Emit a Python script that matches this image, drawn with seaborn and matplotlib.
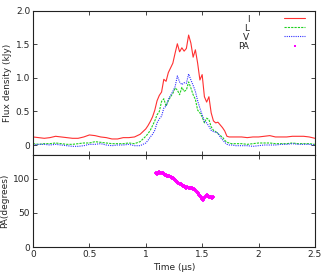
import numpy as np
import pandas as pd
import matplotlib
matplotlib.use("Agg")
import matplotlib.pyplot as plt
import seaborn as sns

# sampling times (us): baseline, burst, tail
t_base = np.round(np.arange(0.0, 0.96, 0.05), 2)
t_burst = np.round(np.arange(1.0, 1.77, 0.02), 2)
t_tail = np.round(np.arange(1.8, 2.51, 0.05), 2)
time_us = np.concatenate([t_base, t_burst, t_tail])

flux_I = [0.12, 0.11, 0.10, 0.11, 0.13, 0.12, 0.11, 0.10, 0.10, 0.12,
          0.15, 0.14, 0.12, 0.11, 0.09, 0.09, 0.11, 0.11, 0.12, 0.16,
          0.24, 0.29, 0.35, 0.42, 0.52, 0.66, 0.74, 0.79, 0.98, 0.95,
          1.08, 1.15, 1.22, 1.37, 1.51, 1.39, 1.45, 1.40, 1.44, 1.64,
          1.52, 1.31, 1.42, 1.22, 0.97, 1.05, 0.72, 0.64, 0.72, 0.48,
          0.36, 0.33, 0.34, 0.30, 0.26, 0.21, 0.13, 0.12, 0.12,
          0.12, 0.12, 0.11, 0.12, 0.12, 0.13, 0.14, 0.12, 0.12, 0.12,
          0.13, 0.13, 0.13, 0.12, 0.10]
flux_L = [0.02, 0.01, 0.02, 0.02, 0.03, 0.02, 0.01, 0.01, 0.02, 0.03,
          0.03, 0.05, 0.04, 0.03, 0.02, 0.02, 0.02, 0.03, 0.02, 0.05,
          0.13, 0.17, 0.22, 0.29, 0.36, 0.45, 0.50, 0.65, 0.69, 0.58,
          0.66, 0.72, 0.77, 0.85, 0.82, 0.75, 0.86, 0.80, 0.82, 0.94,
          0.85, 0.75, 0.68, 0.52, 0.48, 0.42, 0.33, 0.40, 0.38, 0.27,
          0.22, 0.20, 0.17, 0.14, 0.12, 0.07, 0.04, 0.03, 0.02,
          0.02, 0.02, 0.01, 0.02, 0.03, 0.03, 0.03, 0.02, 0.02, 0.02,
          0.03, 0.02, 0.02, 0.02, 0.01]
flux_V = [0.00, 0.01, 0.01, 0.00, 0.01, 0.00, -0.01, -0.02, -0.02, -0.01,
          0.01, 0.01, 0.02, 0.00, -0.01, 0.00, 0.00, 0.01, -0.01, -0.01,
          0.03, 0.07, 0.12, 0.16, 0.22, 0.33, 0.39, 0.43, 0.55, 0.58,
          0.68, 0.74, 0.80, 0.87, 1.03, 0.94, 0.90, 0.93, 0.92, 1.06,
          0.97, 0.89, 0.80, 0.66, 0.55, 0.45, 0.35, 0.33, 0.28, 0.22,
          0.20, 0.19, 0.18, 0.12, 0.08, 0.04, 0.01, 0.00, 0.00,
          -0.01, -0.01, -0.01, -0.02, -0.01, 0.00, 0.00, 0.00, 0.01, 0.01,
          0.02, 0.01, 0.01, 0.01, 0.00]

pa_time = np.round(np.arange(1.09, 1.605, 0.01), 2)
pa_deg = [108, 107, 109, 110, 109, 108, 109, 107, 106, 106,
          105, 104, 104, 103, 102, 102, 100, 99, 97, 96,
          94, 93, 92, 91, 90, 89, 88, 87, 88, 87,
          86, 86, 86, 85, 85, 84, 81, 79, 77, 75,
          73, 71, 69, 72, 75, 76, 75, 74, 74, 73,
          72, 73]

sns.set_style("ticks")
plt.rcParams['font.family'] = ['Liberation Sans Narrow', 'DejaVu Sans']
plt.rcParams['font.size'] = 6.5
plt.rcParams['xtick.direction'] = 'in'
plt.rcParams['ytick.direction'] = 'in'

df = pd.DataFrame({'t': time_us, 'I': flux_I, 'L': flux_L, 'V': flux_V})
pa = pd.DataFrame({'t': pa_time, 'PA': pa_deg})

fig = plt.figure(figsize=(3.27, 2.73), dpi=100)
ax1 = fig.add_axes([0.101, 0.432, 0.862, 0.528])
ax2 = fig.add_axes([0.101, 0.095, 0.862, 0.337], sharex=ax1)

sns.lineplot(data=df, x='t', y='I', ax=ax1, color='#ff3030', lw=0.8, label='I')
sns.lineplot(data=df, x='t', y='L', ax=ax1, color='#20d020', lw=0.8, label='L',
             linestyle=(0, (2, 1)))
sns.lineplot(data=df, x='t', y='V', ax=ax1, color='#3030ff', lw=0.8, label='V',
             linestyle=(0, (1, 1)))
sns.scatterplot(data=pa, x='t', y='PA', ax=ax2, color='#ff00ff', marker='+',
                s=12, linewidth=1.3, label='PA')

ax1.set_xlim(0, 2.5)
ax1.set_ylim(-0.15, 2.0)
ax1.set_yticks([0, 0.5, 1.0, 1.5, 2.0])
ax1.set_yticklabels(['0', '0.5', '1.0', '1.5', '2.0'])
ax1.set_ylabel('Flux density (kJy)', labelpad=3)
ax1.set_xlabel('')
ax1.tick_params(labelbottom=False, top=True, right=True, length=3, width=0.6, pad=2)

ax2.set_ylim(0, 135)
ax2.set_yticks([0, 50, 100])
ax2.set_xticks([0, 0.5, 1, 1.5, 2, 2.5])
ax2.set_xticklabels(['0', '0.5', '1', '1.5', '2', '2.5'])
ax2.set_ylabel('PA(degrees)', labelpad=3)
ax2.set_xlabel('Time (μs)', labelpad=3)
ax2.tick_params(top=True, right=True, length=3, width=0.6, pad=2)

for ax in (ax1, ax2):
    for s in ax.spines.values():
        s.set_linewidth(0.8)
        s.set_color('#222222')

h1, l1 = ax1.get_legend_handles_labels()
h2, l2 = ax2.get_legend_handles_labels()
ax2.get_legend().remove()
ax1.legend(h1 + h2, l1 + l2, loc='upper right', bbox_to_anchor=(0.979, 1.0),
           frameon=False, markerfirst=False,
           handlelength=2.4, labelspacing=0.0, borderaxespad=0.2, borderpad=0.2,
           handletextpad=3.8, fontsize=6.5, markerscale=0.6)

fig.savefig('out.png', dpi=100)
